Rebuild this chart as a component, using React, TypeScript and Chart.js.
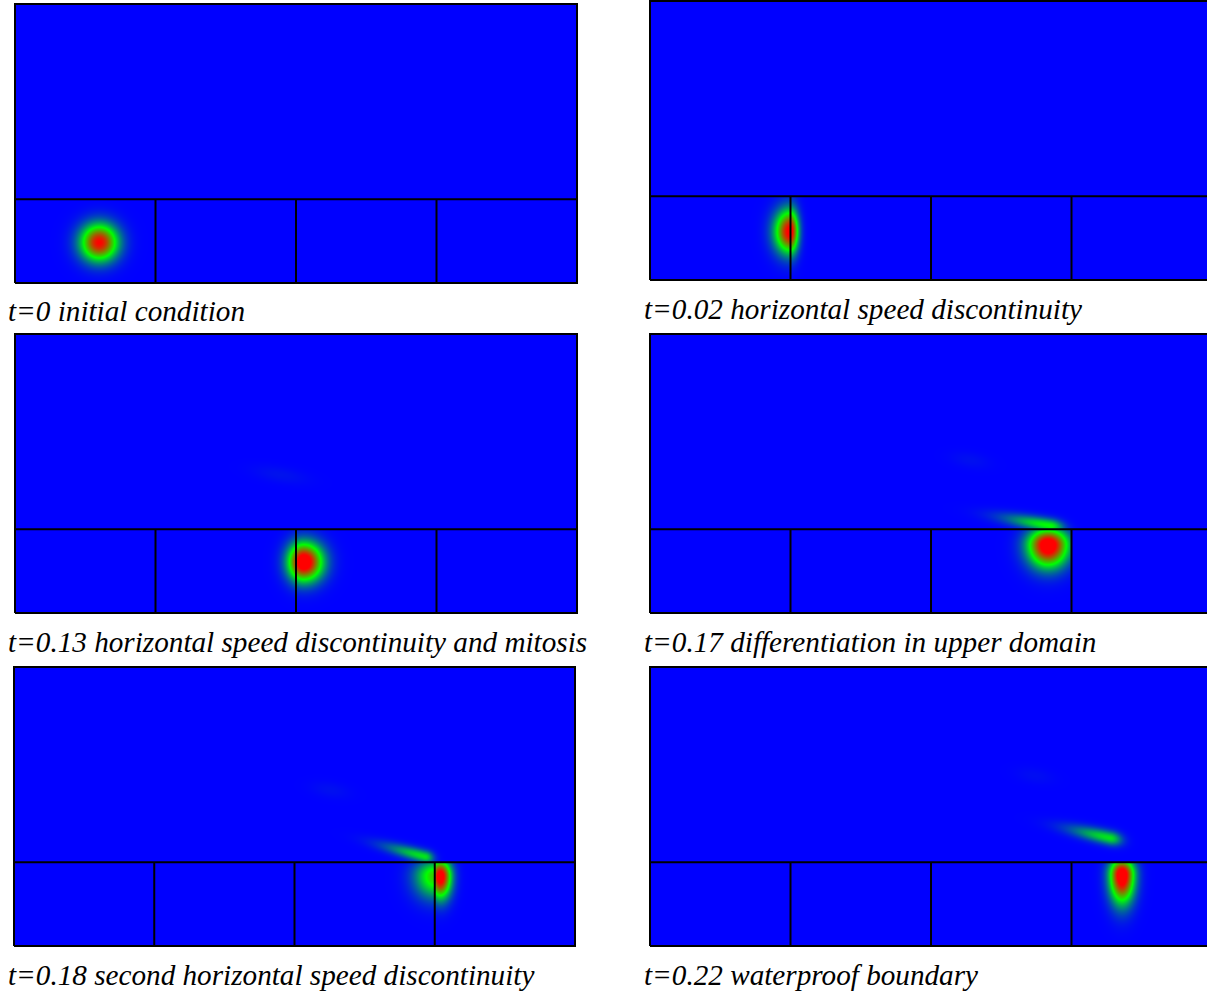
import React, { useEffect, useRef } from "react";
import { Chart, registerables } from "chart.js";

Chart.register(...registerables);

// ---------------- data ----------------
const DOMAIN_X: [number, number] = [0, 4];
const DOMAIN_Y: [number, number] = [0, 2];
const INTERFACE_Y = 0.6;
const SUBDOMAIN_BOUNDS_X = [1, 2, 3];

const captions = [
  "t=0 initial condition",
  "t=0.02 horizontal speed discontinuity",
  "t=0.13 horizontal speed discontinuity and mitosis",
  "t=0.17 differentiation in upper domain",
  "t=0.18 second horizontal speed discontinuity",
  "t=0.22 waterproof boundary",
];

// clip regions in data coordinates [x0, x1, y0, y1]
const LOWER: number[] = [0, 4, 0, 0.6];
const UPPER: number[] = [0, 4, 0.6, 2];

// cell densities described as (possibly asymmetric, rotated) Gaussian lumps
const blobsT000 = [
  { x: 0.6, y: 0.29, sxL: 0.094, sxR: 0.094, syB: 0.094, syT: 0.094, amp: 1.0, angle: 0, clip: LOWER },
];
const blobsT002 = [
  { x: 1.0, y: 0.347, sxL: 0.078, sxR: 0.04, syB: 0.11, syT: 0.11, amp: 1.05, angle: 0, clip: LOWER },
];
const blobsT013 = [
  { x: 2.055, y: 0.365, sxL: 0.078, sxR: 0.095, syB: 0.097, syT: 0.097, amp: 1.15, angle: 0, clip: LOWER },
  { x: 1.89, y: 0.99, sxL: 0.14, sxR: 0.14, syB: 0.04, syT: 0.04, amp: 0.035, angle: -10, clip: UPPER },
];
const blobsT017 = [
  { x: 2.834, y: 0.487, sxL: 0.1, sxR: 0.1, syB: 0.11, syT: 0.08, amp: 1.15, angle: 0, clip: [0, 3, 0, 0.6] },
  { x: 2.848, y: 0.625, sxL: 0.22, sxR: 0.07, syB: 0.035, syT: 0.035, amp: 0.5, angle: -10, clip: UPPER },
  { x: 2.28, y: 1.095, sxL: 0.1, sxR: 0.1, syB: 0.04, syT: 0.04, amp: 0.03, angle: -10, clip: UPPER },
];
const blobsT018 = [
  { x: 3.04, y: 0.5, sxL: 0.05, sxR: 0.055, syB: 0.11, syT: 0.08, amp: 1.1, angle: 0, clip: [3, 4, 0, 0.6] },
  { x: 3.0, y: 0.5, sxL: 0.1, sxR: 0.02, syB: 0.11, syT: 0.08, amp: 0.6, angle: 0, clip: [0, 3, 0, 0.6] },
  { x: 2.93, y: 0.64, sxL: 0.2, sxR: 0.045, syB: 0.032, syT: 0.032, amp: 0.45, angle: -15, clip: UPPER },
  { x: 2.256, y: 1.118, sxL: 0.1, sxR: 0.1, syB: 0.04, syT: 0.04, amp: 0.03, angle: -10, clip: UPPER },
];
const blobsT022 = [
  { x: 3.36, y: 0.51, sxL: 0.062, sxR: 0.062, syB: 0.14, syT: 0.08, amp: 1.15, angle: 0, clip: LOWER },
  { x: 3.275, y: 0.774, sxL: 0.2, sxR: 0.06, syB: 0.035, syT: 0.035, amp: 0.45, angle: -12.7, clip: UPPER },
  { x: 2.74, y: 1.22, sxL: 0.1, sxR: 0.1, syB: 0.04, syT: 0.04, amp: 0.025, angle: -10, clip: UPPER },
];

const panelBlobs = [blobsT000, blobsT002, blobsT013, blobsT017, blobsT018, blobsT022];

// ---------------- layout (pixels) ----------------
const PANEL_BOXES = [
  { L: 15, T: 4, R: 577, B: 283, capX: 8, capBase: 322 },
  { L: 650, T: 1, R: 1212, B: 280, capX: 644, capBase: 320 },
  { L: 15, T: 334, R: 577, B: 613, capX: 8, capBase: 653 },
  { L: 650, T: 334, R: 1212, B: 613, capX: 644, capBase: 653 },
  { L: 14, T: 667, R: 575, B: 946, capX: 8, capBase: 986 },
  { L: 650, T: 667, R: 1212, B: 946, capX: 644, capBase: 986 },
];

const CAPTION_SIZE = 29.2;

function colormap(v: number): [number, number, number] {
  const c = Math.max(0, Math.min(1, v));
  if (c < 0.5) {
    const t = c * 2;
    return [0, 255 * t, 255 * (1 - t)];
  }
  const t = (c - 0.5) * 2;
  return [255 * t, 255 * (1 - t), 0];
}

const fieldPlugin = {
  id: "densityField",
  beforeDatasetsDraw(chart: any) {
    const ds = chart.data.datasets.find((d: any) => d.isField);
    if (!ds) return;
    const blobs = ds.data.map((b: any) => ({
      x: b.x, y: b.y, sxL: b.sxL, sxR: b.sxR, syB: b.syB, syT: b.syT, amp: b.amp,
      c: Math.cos((b.angle * Math.PI) / 180), s: Math.sin((b.angle * Math.PI) / 180),
      clip: b.clip,
    }));
    const { ctx, chartArea, scales } = chart;
    const xs = scales.x, ys = scales.y;
    const x0 = Math.floor(chartArea.left), y0 = Math.floor(chartArea.top);
    const w = Math.ceil(chartArea.right) - x0, h = Math.ceil(chartArea.bottom) - y0;
    const img = ctx.createImageData(w, h);
    const xv = new Float64Array(w);
    const yv = new Float64Array(h);
    for (let i = 0; i < w; i++) xv[i] = xs.getValueForPixel(x0 + i + 0.5);
    for (let j = 0; j < h; j++) yv[j] = ys.getValueForPixel(y0 + j + 0.5);
    const d = img.data;
    for (let j = 0; j < h; j++) {
      const dy0 = yv[j];
      for (let i = 0; i < w; i++) {
        const dx0 = xv[i];
        let v = 0;
        for (const b of blobs) {
          const cl = b.clip;
          if (dx0 < cl[0] || dx0 > cl[1] || dy0 < cl[2] || dy0 > cl[3]) continue;
          const u = dx0 - b.x, q = dy0 - b.y;
          const ur = u * b.c + q * b.s;
          const qr = -u * b.s + q * b.c;
          const sx = ur < 0 ? b.sxL : b.sxR;
          const sy = qr < 0 ? b.syB : b.syT;
          const e = (ur * ur) / (2 * sx * sx) + (qr * qr) / (2 * sy * sy);
          if (e < 12) v += b.amp * Math.exp(-e);
        }
        const [r, g, bl] = colormap(v);
        const k = (j * w + i) * 4;
        d[k] = r; d[k + 1] = g; d[k + 2] = bl; d[k + 3] = 255;
      }
    }
    ctx.putImageData(img, x0, y0);
  },
};

function lineDs(points: { x: number; y: number }[]) {
  return {
    data: points,
    showLine: true,
    borderColor: "#000000",
    borderWidth: 2,
    pointRadius: 0,
    clip: false,
    fill: false,
    tension: 0,
  };
}

function Panel({ idx }: { idx: number }) {
  const ref = useRef<HTMLCanvasElement>(null);
  const box = PANEL_BOXES[idx];
  const pad = 4;
  const cl = Math.floor(box.L) - pad;
  const ct = Math.floor(box.T) - pad;
  const cw = Math.ceil(box.R) + pad - cl;
  const ch = Math.ceil(box.B) + pad - ct;

  useEffect(() => {
    if (!ref.current) return;
    const [xa, xb] = DOMAIN_X;
    const [ya, yb] = DOMAIN_Y;
    const datasets: any[] = [
      { isField: true, data: panelBlobs[idx], pointRadius: 0, showLine: false },
      lineDs([
        { x: xa, y: ya }, { x: xb, y: ya }, { x: xb, y: yb }, { x: xa, y: yb }, { x: xa, y: ya },
      ]),
      lineDs([{ x: xa, y: INTERFACE_Y }, { x: xb, y: INTERFACE_Y }]),
      ...SUBDOMAIN_BOUNDS_X.map((bx) => lineDs([{ x: bx, y: ya }, { x: bx, y: INTERFACE_Y }])),
    ];
    const chart = new Chart(ref.current, {
      type: "scatter",
      data: { datasets },
      options: {
        animation: false,
        responsive: false,
        events: [],
        layout: {
          padding: {
            left: box.L - cl,
            top: box.T - ct,
            right: cl + cw - box.R,
            bottom: ct + ch - box.B,
          },
        },
        scales: {
          x: { type: "linear", min: xa, max: xb, display: false },
          y: { type: "linear", min: ya, max: yb, display: false },
        },
        plugins: { legend: { display: false }, tooltip: { enabled: false }, title: { display: false } },
      } as any,
      plugins: [fieldPlugin as any],
    });
    return () => chart.destroy();
  }, [idx]);

  return (
    <>
      <canvas
        ref={ref}
        width={cw}
        height={ch}
        style={{ position: "absolute", left: cl, top: ct, width: cw, height: ch }}
      />
      <div
        style={{
          position: "absolute",
          left: box.capX,
          top: box.capBase - 0.84 * CAPTION_SIZE,
          fontFamily: "'Liberation Serif', 'Times New Roman', serif",
          fontStyle: "italic",
          fontSize: CAPTION_SIZE,
          lineHeight: CAPTION_SIZE + "px",
          color: "#000",
          whiteSpace: "nowrap",
        }}
      >
        {captions[idx]}
      </div>
    </>
  );
}

export default function App() {
  return (
    <div
      style={{
        position: "absolute",
        left: 0,
        top: 0,
        width: 1207,
        height: 996,
        overflow: "hidden",
        background: "#ffffff",
      }}
    >
      {PANEL_BOXES.map((_, i) => (
        <Panel key={i} idx={i} />
      ))}
    </div>
  );
}
